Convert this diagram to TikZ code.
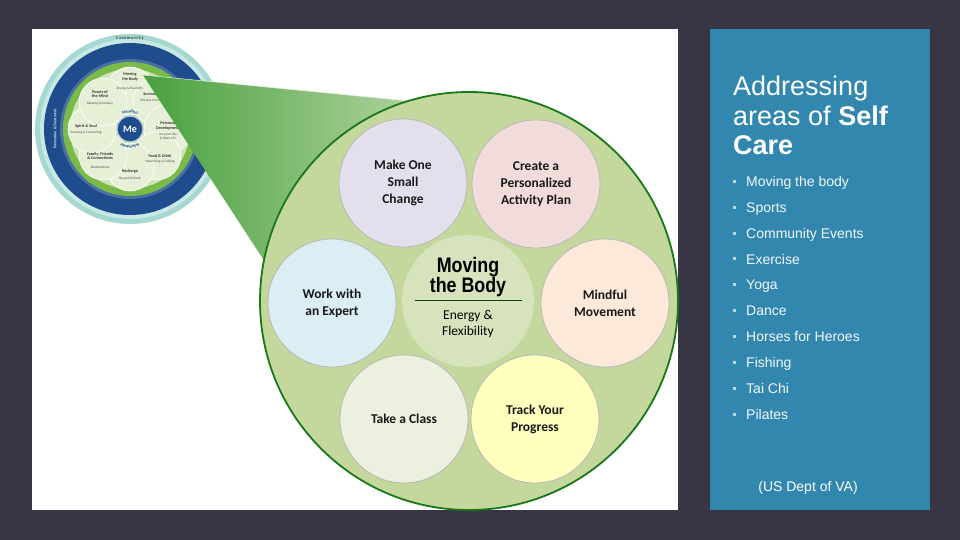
\documentclass[tikz,border=0pt]{standalone}
\usepackage{fontspec}
\setmainfont{Liberation Sans}
\newfontfamily\calfont{Carlito}
\newfontfamily\narrowfont[FakeStretch=0.85]{Liberation Sans}
\usetikzlibrary{decorations.text}
\definecolor{bgdark}{RGB}{56,53,68}
\definecolor{panelblue}{RGB}{50,135,174}
\definecolor{bigfill}{RGB}{196,216,158}
\definecolor{bigborder}{RGB}{24,120,24}
\definecolor{centerfill}{RGB}{214,227,188}
\definecolor{lavc}{RGB}{228,223,236}
\definecolor{pinkc}{RGB}{242,220,219}
\definecolor{lbluec}{RGB}{219,238,244}
\definecolor{peachc}{RGB}{253,233,217}
\definecolor{sagec}{RGB}{235,241,222}
\definecolor{yellowc}{RGB}{255,255,190}
\definecolor{tealc}{RGB}{164,216,208}
\definecolor{wheelblue}{RGB}{30,76,140}
\definecolor{wheelgreen}{RGB}{122,186,72}
\definecolor{wheelpale}{RGB}{208,228,182}
\definecolor{petalc}{RGB}{230,240,215}
\definecolor{wedgedark}{RGB}{72,160,62}
\definecolor{wedgelight}{RGB}{196,220,176}
\definecolor{bulletc}{RGB}{190,214,228}
\begin{document}
\begin{tikzpicture}[x=1pt,y=1pt,
  bubble/.style={circle, minimum size=128pt, inner sep=0pt, draw=black!28, line width=0.8pt,
     align=center, text=black!90, font=\calfont\bfseries\fontsize{13.5}{17}\selectfont},
  petal/.style={circle, minimum size=48pt, inner sep=0pt, fill=petalc, draw=white, line width=0.6pt},
  ptitle/.style={inner sep=0pt, align=center, text=black!80, font=\calfont\bfseries\fontsize{4.2}{4.6}\selectfont},
  psub/.style={inner sep=0pt, align=center, text=black!70, font=\calfont\fontsize{3.4}{3.8}\selectfont},
  titletxt/.style={inner sep=0pt, anchor=base west, text=white, font=\fontsize{27}{29.5}\selectfont},
  itemtxt/.style={inner sep=0pt, anchor=base west, text=white!94!panelblue, font=\fontsize{14}{16}\selectfont},
  bulletbox/.style={inner sep=0pt, minimum size=3pt, fill=bulletc},
  bodytxt/.style={inner sep=0pt, anchor=base, text=black, font=\narrowfont\bfseries\fontsize{21}{23}\selectfont},
  subtxt/.style={inner sep=0pt, anchor=base, text=black, font=\calfont\fontsize{13.5}{16}\selectfont}
]
\useasboundingbox (0,0) rectangle (960,540);
\fill[bgdark] (0,0) rectangle (960,540);
\fill[white] (32,30) rectangle (678,511);
\fill[panelblue] (710,30) rectangle (930,511);

% ---- small wheel ----
\fill[tealc] (130,411) circle[radius=95pt];
\fill[tealc!60!white] (130,411) circle[radius=90pt];
\fill[wheelblue] (130,411) circle[radius=86pt];
\fill[wheelblue!80!white] (130,411) circle[radius=70pt];
\fill[wheelgreen] (130,411) circle[radius=67pt];
\fill[wheelpale] (130,411) circle[radius=60pt];
\foreach \a/\n in {90/p1,45/p2,0/p3,-45/p4,-90/p5,-135/p6,180/p7,135/p8}{
  \node[petal] (\n) at ([shift={(130,411)}]\a:38pt) {};
}
\node[circle, minimum size=26pt, inner sep=0pt, fill=wheelblue, draw=white!70!wheelblue, line width=1.2pt,
      text=white, font=\calfont\bfseries\fontsize{10}{10}\selectfont] (me) at (130,411) {Me};
\path[decorate, decoration={text along path, text={|\calfont\bfseries\fontsize{4.5}{5}\selectfont|Mindful},
      text align=center, text color=wheelblue}]
      ([shift={(130,411)}]150:16pt) arc[start angle=150, end angle=30, radius=16pt];
\path[decorate, decoration={text along path, text={|\calfont\bfseries\fontsize{4.5}{5}\selectfont|Awareness},
      text align=center, text color=wheelblue}]
      ([shift={(130,411)}]215:19pt) arc[start angle=215, end angle=325, radius=19pt];
\node[ptitle] (t1) at (130,463) {Moving\\the Body};
\node[psub] (s1) at (130,451) {Energy \& Flexibility};
\node[ptitle] (t8) at (100,446) {Power of\\the Mind};
\node[psub] (s8) at (100,436) {Relaxing \& Healing};
\node[ptitle] (t7) at (86,414) {Spirit \& Soul};
\node[psub] (s7) at (86,407) {Growing \& Connecting};
\node[ptitle] (t6) at (100,384) {Family, Friends\\\& Connections};
\node[psub] (s6) at (100,372) {Relationships};
\node[ptitle] (t5) at (130,369) {Recharge};
\node[psub] (s5) at (130,361) {Sleep \& Refresh};
\node[ptitle] (t4) at (160,384) {Food \& Drink};
\node[psub] (s4) at (160,378) {Nourishing \& Fueling};
\node[ptitle] (t3) at (168,414) {Personal\\Development};
\node[psub] (s3) at (168,404) {Personal Life\\\& Work Life};
\node[ptitle] (t2) at (155,446) {Surroundings};
\node[psub] (s2) at (155,439) {Physical \& Emotional};
\node[inner sep=0pt, text=black!70!tealc, font=\calfont\bfseries\fontsize{4.5}{5}\selectfont] (comm) at (130,502) {C\,o\,m\,m\,u\,n\,i\,t\,y};
\node[inner sep=0pt, rotate=90, text=white!85!wheelblue, font=\calfont\bfseries\fontsize{4}{4.5}\selectfont] (prev) at (55,411) {Prevention \& Treatment};

% ---- wedge ----
\shade[left color=wedgedark, right color=wedgelight] (143,465) -- (440,436) -- (469,239) -- (265,278) -- cycle;
\draw[white!60!wedgelight, line width=0.5pt] (143,465) -- (440,436);

% ---- big circle ----
\node[circle, minimum size=418pt, inner sep=0pt, fill=bigfill, draw=bigborder, line width=1.8pt] (big) at (469,239) {};

\node[bubble, fill=lavc] (make) at (403,357) {Make One\\Small\\Change};
\node[bubble, fill=pinkc] (create) at (536,356) {Create a\\Personalized\\Activity Plan};
\node[bubble, fill=lbluec] (work) at (332,237) {Work with\\an Expert};
\node[bubble, fill=peachc] (mind) at (605,237) {Mindful\\Movement};
\node[bubble, fill=sagec] (take) at (404,121) {Take a Class};
\node[bubble, fill=yellowc] (track) at (535,121) {Track Your\\Progress};
\node[circle, minimum size=132pt, inner sep=0pt, fill=centerfill] (center) at (468,239) {};
\node[bodytxt] (mv) at (468,267) {Moving};
\node[bodytxt] (tb) at (468,247) {the Body};
\coordinate (ul) at (415,239);
\coordinate (ur) at (522,239);
\draw[black!45!bigborder, line width=1pt] (ul) -- (ur);
\node[subtxt] (en) at (468,220) {Energy \&};
\node[subtxt] (fl) at (468,204.5) {Flexibility};

% ---- right panel text ----
\node[titletxt] (h1) at (733,444) {Addressing};
\node[titletxt] (h2) at (733,414.5) {areas of \textbf{Self}};
\node[titletxt] (h3) at (733,385) {\textbf{Care}};
\foreach \yy/\txt/\n in {353/Moving the body/i1, 327/Sports/i2, 301/Community Events/i3, 275.5/Exercise/i4,
   250/Yoga/i5, 224/Dance/i6, 198/Horses for Heroes/i7, 172/Fishing/i8, 146/Tai Chi/i9, 120/Pilates/i10}{
  \node[bulletbox] (b\n) at (734.5,\yy+5.5) {};
  \node[itemtxt] (\n) at (746,\yy) {\txt};
}
\node[inner sep=0pt, anchor=base, text=white, font=\fontsize{14}{16}\selectfont] (src) at (808,48) {(US Dept of VA)};
\end{tikzpicture}
\end{document}
